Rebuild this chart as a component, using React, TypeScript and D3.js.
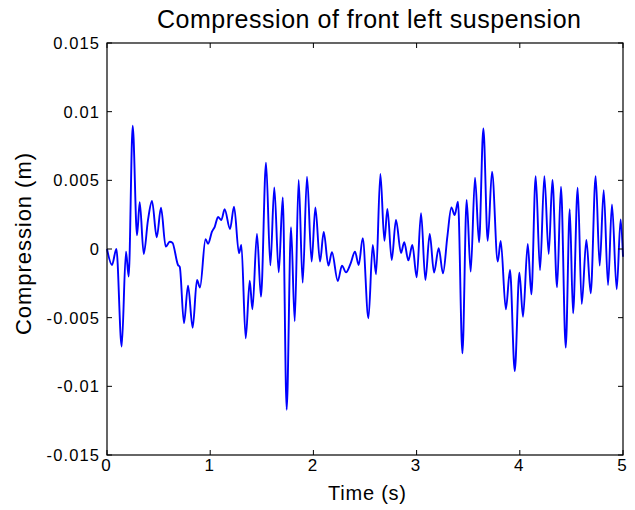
import * as d3 from "d3";

// tiempo (s) y compresión (en mm, se divide entre 1000 al dibujar)
const times = [
  0, 0.048, 0.091, 0.142, 0.184, 0.21, 0.249, 0.291, 0.317, 0.356, 0.397, 0.436,
  0.482, 0.523, 0.569, 0.608, 0.634, 0.688, 0.705, 0.746, 0.785, 0.83, 0.872,
  0.901, 0.955, 0.979, 1.017, 1.044, 1.076, 1.108, 1.14, 1.192, 1.231, 1.279,
  1.302, 1.344, 1.383, 1.409, 1.453, 1.492, 1.541, 1.583, 1.621, 1.664, 1.703,
  1.741, 1.783, 1.819, 1.857, 1.896, 1.938, 1.983, 2.019, 2.064, 2.1, 2.145,
  2.18, 2.236, 2.277, 2.316, 2.361, 2.403, 2.439, 2.478, 2.533, 2.575, 2.607,
  2.649, 2.688, 2.717, 2.759, 2.8, 2.849, 2.88, 2.92, 2.959, 3.001, 3.043,
  3.085, 3.127, 3.169, 3.214, 3.256, 3.298, 3.337, 3.369, 3.401, 3.444, 3.485,
  3.524, 3.566, 3.605, 3.647, 3.689, 3.731, 3.786, 3.815, 3.865, 3.905, 3.951,
  3.996, 4.031, 4.077, 4.112, 4.154, 4.196, 4.238, 4.28, 4.316, 4.361, 4.399,
  4.445, 4.484, 4.516, 4.561, 4.6, 4.645, 4.687, 4.735, 4.774, 4.813, 4.855,
  4.893, 4.939, 4.977, 5.0,
];

const compressionMm = [
  0, -1.16, 0, -7.1, -0.2, -2.0, 8.97, 1.0, 3.4, -0.36, 2.1, 3.5,
  0.85, 3.0, 0.17, 0.53, 0.46, -1.16, -1.3, -5.4, -2.67, -5.73, -2.26,
  -2.8, 0.72, 0.38, 1.26, 1.62, 2.33, 2.11, 2.89, 1.46, 3.08, -0.31,
  0.29, -6.5, -2.3, -4.39, 1.09, -3.47, 6.28, -1.19, 4.49, -1.7, 3.76,
  -11.7, 1.58, -5.26, 5.02, -2.45, 5.26, -0.92, 3.03, -0.92, 1.24, -1.21,
  -0.24, -2.33, -1.21, -1.7, -1.04, -0.2, -1.16, 0.78, -5.04, 0.29, -1.84,
  5.46, 0.6, 2.91, -0.8, 2.11, -0.29, 0.5, -0.83, 0.29, -2.06, 2.6,
  -2.26, 1.09, -1.72, 0.05, -1.77, 0.9, 3.03, 2.47, 3.44, -7.6, 3.57,
  -1.65, 5.19, 0.49, 8.78, 0.6, 5.63, -0.92, 0.58, -4.39, -1.53, -8.88,
  -1.72, -4.93, 0.36, -3.3, 5.31, -1.53, 5.31, -0.36, 5.02, -2.79, 4.53,
  -7.18, 2.89, -4.68, 4.46, -4.0, 0.65, -3.22, 5.31, -1.21, 4.29, -2.62,
  3.25, -2.93, 2.16, -0.56,
];

const xTicks = [0, 1, 2, 3, 4, 5];
const yTicks = [-0.015, -0.01, -0.005, 0, 0.005, 0.01, 0.015];

const width = 635;
const height = 510;
const margin = { top: 43, right: 12, bottom: 55, left: 107 };
const font = "'Liberation Sans', Arial, Helvetica, sans-serif";

const App = () => {
  const x = d3
    .scaleLinear()
    .domain([0, 5])
    .range([margin.left, width - margin.right]);
  const y = d3
    .scaleLinear()
    .domain([-0.015, 0.015])
    .range([height - margin.bottom, margin.top]);

  const puntos = times.map((t, i) => [t, compressionMm[i] / 1000] as [number, number]);
  const linea = d3
    .line<[number, number]>()
    .x((d) => x(d[0]))
    .y((d) => y(d[1]))
    .curve(d3.curveMonotoneX);

  const x0 = x(0);
  const x1 = x(5);
  const y0 = y(-0.015);
  const y1 = y(0.015);
  const tick = 5;

  return (
    <svg
      width={width}
      height={height}
      style={{ position: "absolute", left: 0, top: 0, background: "#fff" }}
      fontFamily={font}
    >
      <text x={369} y={28} textAnchor="middle" fontSize={25} textLength={424} lengthAdjust="spacing">
        Compression of front left suspension
      </text>

      <path d={linea(puntos) ?? ""} fill="none" stroke="#0000ff" strokeWidth={1.9} />

      {/* marco y marcas hacia dentro, estilo matlab */}
      <rect x={x0} y={y1} width={x1 - x0} height={y0 - y1} fill="none" stroke="#000" strokeWidth={1.2} />
      {xTicks.map((t) => (
        <g key={"x" + t}>
          <line x1={x(t)} x2={x(t)} y1={y0} y2={y0 - tick} stroke="#000" />
          <line x1={x(t)} x2={x(t)} y1={y1} y2={y1 + tick} stroke="#000" />
          <text x={x(t) - 1} y={y0 + 16} textAnchor="middle" fontSize={17}>
            {t}
          </text>
        </g>
      ))}
      {yTicks.map((t) => (
        <g key={"y" + t}>
          <line x1={x0} x2={x0 + tick} y1={y(t)} y2={y(t)} stroke="#000" />
          <line x1={x1} x2={x1 - tick} y1={y(t)} y2={y(t)} stroke="#000" />
          <text x={x0 - 7} y={y(t)} dy="0.36em" textAnchor="end" fontSize={16.5} letterSpacing={1.1}>
            {String(+t.toFixed(3))}
          </text>
        </g>
      ))}

      <text x={367} y={500} textAnchor="middle" fontSize={20} textLength={78} lengthAdjust="spacing">
        Time (s)
      </text>
      <text
        transform={`translate(31,244) rotate(-90)`}
        textAnchor="middle"
        fontSize={22}
        textLength={182}
        lengthAdjust="spacing"
      >
        Compression (m)
      </text>
    </svg>
  );
};

export default App;
